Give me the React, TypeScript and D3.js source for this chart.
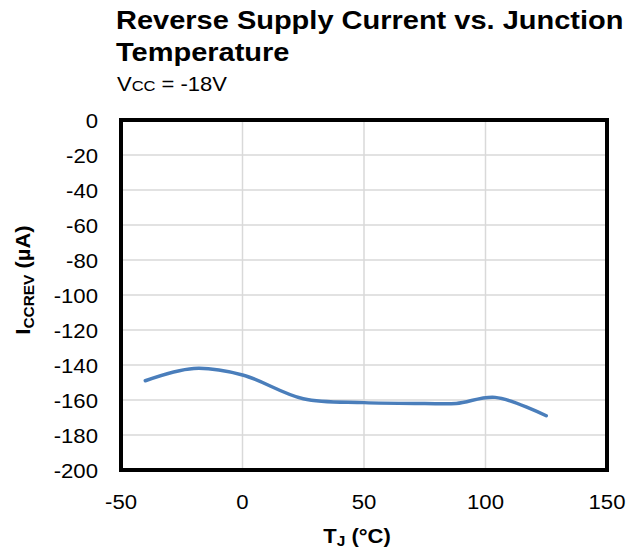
import React from "react";
import * as d3 from "d3";

const temps = [-40, -20, 0, 25, 50, 75, 88, 104, 125];
const current = [-149, -142, -145.7, -159.3, -161.5, -162, -162, -158.5, -169];
const xTicks = [-50, 0, 50, 100, 150];
const yTicks = [0, -20, -40, -60, -80, -100, -120, -140, -160, -180, -200];

function SText(props: { x: number; y: number; sx?: number; rot?: number; children: React.ReactNode; [k: string]: any }) {
  const { x, y, sx = 1, rot = 0, children, ...rest } = props;
  return (
    <text transform={`translate(${x},${y}) rotate(${rot}) scale(${sx},1)`} {...rest}>
      {children}
    </text>
  );
}

export default function App() {
  const W = 640, H = 550;
  const left = 121, right = 607, top = 120, bottom = 470;
  const x = d3.scaleLinear().domain([-50, 150]).range([left, right]);
  const y = d3.scaleLinear().domain([-200, 0]).range([bottom, top]);
  const line = d3
    .line<number>()
    .x((_, i) => x(temps[i]))
    .y((d) => y(d))
    .curve(d3.curveCatmullRom.alpha(0.5));
  const font = "Arial, 'Liberation Sans', sans-serif";
  return (
    <svg width={W} height={H} style={{ position: "absolute", left: 0, top: 0, background: "#fff" }} fontFamily={font}>
      <SText x={116} y={29} sx={1.16} fontSize={25} fontWeight="bold">Reverse Supply Current vs. Junction</SText>
      <SText x={116} y={61} sx={1.16} fontSize={25} fontWeight="bold">Temperature</SText>
      <SText x={117} y={91} sx={1.1} fontSize={20}>
        V<tspan fontSize={15}>CC</tspan> = -18V
      </SText>
      {xTicks.slice(1, -1).map((t) => (
        <line key={"gx" + t} x1={x(t)} x2={x(t)} y1={top} y2={bottom} stroke="#d9d9d9" strokeWidth={1.5} />
      ))}
      {yTicks.slice(1, -1).map((t) => (
        <line key={"gy" + t} x1={left} x2={right} y1={y(t)} y2={y(t)} stroke="#d9d9d9" strokeWidth={1.5} />
      ))}
      <path d={line(current) || ""} fill="none" stroke="#4a7ebb" strokeWidth={3.5} strokeLinecap="round" />
      <rect x={left} y={top} width={right - left} height={bottom - top} fill="none" stroke="#000" strokeWidth={4} />
      {yTicks.map((t) => (
        <SText key={"ty" + t} x={98} y={y(t) + 7.5} sx={1.08} fontSize={20.5} textAnchor="end">{t}</SText>
      ))}
      {xTicks.map((t) => (
        <SText key={"tx" + t} x={x(t)} y={509} sx={1.08} fontSize={20.5} textAnchor="middle">{t}</SText>
      ))}
      <SText x={357} y={543} sx={1.1} fontSize={20} fontWeight="bold" textAnchor="middle">
        T<tspan fontSize={14} dy={3}>J</tspan><tspan dy={-3}> (°C)</tspan>
      </SText>
      <SText x={30} y={280} rot={-90} sx={1.1} fontSize={20} fontWeight="bold" textAnchor="middle">
        I<tspan fontSize={14} dy={4}>CCREV</tspan><tspan dy={-4}> (µA)</tspan>
      </SText>
    </svg>
  );
}
